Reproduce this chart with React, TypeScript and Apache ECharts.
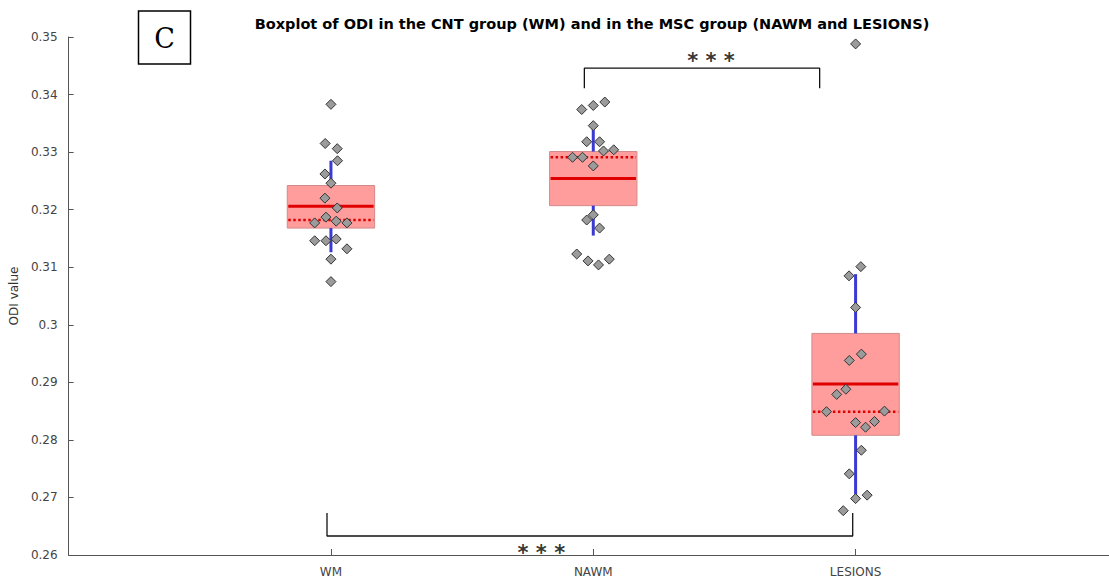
import React, { useEffect, useRef } from "react";
import * as echarts from "echarts";

const categories = ["WM", "NAWM", "LESIONS"];
const categoryPositions = [1, 2, 3];
const titleText = "Boxplot of ODI in the CNT group (WM) and in the MSC group (NAWM and LESIONS)";
const yTicks = { min: 0.26, max: 0.35, step: 0.01 };

// box statistics per category
const boxQ1 = [0.3168, 0.3207, 0.2808];
const boxQ3 = [0.3242, 0.3301, 0.2985];
const medians = [0.3206, 0.3254, 0.2897];
const means = [0.3182, 0.3291, 0.2849];
const whiskerLow = [0.3126, 0.3155, 0.2699];
const whiskerHigh = [0.3285, 0.3352, 0.3088];

// individual subjects: values and horizontal jitter (category units)
const wmValues = [0.3383, 0.3315, 0.3306, 0.3285, 0.3262, 0.3246, 0.322, 0.3203, 0.3187, 0.3177, 0.318, 0.3177, 0.3146, 0.3146, 0.3149, 0.3132, 0.3114, 0.3075];
const wmJitter = [0, -0.022, 0.024, 0.025, -0.023, 0, -0.023, 0.024, -0.019, -0.062, 0.02, 0.061, -0.062, -0.019, 0.02, 0.061, 0, 0];
const nawmValues = [0.3374, 0.3381, 0.3387, 0.3346, 0.3318, 0.3318, 0.3302, 0.3304, 0.3291, 0.3291, 0.3276, 0.3191, 0.3182, 0.3168, 0.3123, 0.3111, 0.3104, 0.3114];
const nawmJitter = [-0.044, 0, 0.044, 0, -0.025, 0.024, 0.039, 0.078, -0.079, -0.041, 0, 0, -0.025, 0.024, -0.063, -0.02, 0.02, 0.061];
const lesionValues = [0.3488, 0.3101, 0.3085, 0.303, 0.2938, 0.2949, 0.2879, 0.2888, 0.2849, 0.285, 0.283, 0.2822, 0.2832, 0.2782, 0.2741, 0.2698, 0.2704, 0.2677];
const lesionJitter = [0, 0.02, -0.025, 0, -0.024, 0.022, -0.072, -0.037, -0.111, 0.11, 0, 0.038, 0.072, 0.022, -0.024, 0, 0.044, -0.047];

// significance brackets
const bracketTop = [[1.966, 0.3411], [1.966, 0.3446], [2.863, 0.3446], [2.863, 0.3411]];
const bracketBottom = [[0.985, 0.2673], [0.985, 0.2633], [2.989, 0.2633], [2.989, 0.2673]];
const starMarks = [[2.449, 0.3458], [1.802, 0.2603]];
const starText = "* * *";

export default function App() {
  const ref = useRef<HTMLDivElement>(null);
  useEffect(() => {
    if (!ref.current) return;
    const chart = echarts.init(ref.current, null, { renderer: "svg" });
    const hw = 0.1665;
    const boxData = categories.map((_, i) => [categoryPositions[i], boxQ1[i], boxQ3[i], medians[i], means[i], whiskerLow[i], whiskerHigh[i]]);
    const groups = [
      [wmValues, wmJitter],
      [nawmValues, nawmJitter],
      [lesionValues, lesionJitter],
    ];
    const points: number[][] = [];
    groups.forEach(([vals, jit], gi) => {
      vals.forEach((v, k) => points.push([categoryPositions[gi] + jit[k], v]));
    });
    const option: any = {
      animation: false,
      backgroundColor: "#fff",
      grid: { left: 66, right: 0, top: 37, bottom: 24, containLabel: false },
      xAxis: {
        type: "value",
        min: 0,
        max: 3.966,
        interval: 1,
        axisLine: { lineStyle: { color: "#555", width: 1 } },
        axisTick: { inside: true, length: 6, lineStyle: { color: "#555" }, customValues: categoryPositions },
        splitLine: { show: false },
        axisLabel: {
          color: "#444",
          fontSize: 12,
          fontFamily: "DejaVu Sans",
          margin: 11,
          customValues: categoryPositions,
          formatter: (v: number) => {
            const r = Math.round(v);
            return Math.abs(v - r) < 1e-6 && r >= 1 && r <= 3 ? categories[r - 1] : "";
          },
        },
      },
      yAxis: {
        type: "value",
        min: yTicks.min,
        max: yTicks.max,
        interval: yTicks.step,
        name: "ODI value",
        nameLocation: "middle",
        nameRotate: 90,
        nameGap: 40,
        nameTextStyle: { color: "#333", fontSize: 12, fontFamily: "DejaVu Sans" },
        axisLine: { show: true, lineStyle: { color: "#555", width: 1 } },
        axisTick: { show: true, inside: true, length: 5, lineStyle: { color: "#555" } },
        splitLine: { show: false },
        axisLabel: {
          color: "#444",
          fontSize: 12,
          fontFamily: "DejaVu Sans",
          margin: 11,
          formatter: (v: number) => String(parseFloat(v.toFixed(2))),
        },
      },
      graphic: [
        {
          type: "text",
          x: 592,
          y: 24,
          style: {
            text: titleText,
            font: "bold 14.5px 'DejaVu Sans'",
            fill: "#000",
            textAlign: "center",
            textVerticalAlign: "middle",
          },
        },
        {
          type: "rect",
          shape: { x: 138.5, y: 11, width: 52, height: 53 },
          style: { fill: "#fff", stroke: "#000", lineWidth: 1.5 },
        },
        {
          type: "text",
          x: 164.5,
          y: 38,
          style: {
            text: "C",
            font: "27px 'DejaVu Serif'",
            fill: "#000",
            textAlign: "center",
            textVerticalAlign: "middle",
          },
        },
      ],
      series: [
        {
          type: "custom",
          data: boxData,
          z: 2,
          renderItem: (params: any, api: any) => {
            const x = api.value(0);
            const q1 = api.value(1), q3 = api.value(2), med = api.value(3), mn = api.value(4), wl = api.value(5), wh = api.value(6);
            const tl = api.coord([x - hw, q3]);
            const br = api.coord([x + hw, q1]);
            const c = api.coord([x, q3]);
            const cLow = api.coord([x, q1]);
            const top = api.coord([x, wh]);
            const bot = api.coord([x, wl]);
            const medL = api.coord([x - hw, med]);
            const medR = api.coord([x + hw, med]);
            const mnL = api.coord([x - hw, mn]);
            const mnR = api.coord([x + hw, mn]);
            return {
              type: "group",
              children: [
                {
                  type: "rect",
                  shape: { x: tl[0], y: tl[1], width: br[0] - tl[0], height: br[1] - tl[1] },
                  style: { fill: "#ff9d9d", stroke: "#d28a8a", lineWidth: 1 },
                },
                { type: "line", shape: { x1: c[0], y1: c[1], x2: top[0], y2: top[1] }, style: { stroke: "#3a3ad2", lineWidth: 3 } },
                { type: "line", shape: { x1: cLow[0], y1: cLow[1], x2: bot[0], y2: bot[1] }, style: { stroke: "#3a3ad2", lineWidth: 3 } },
                { type: "line", shape: { x1: medL[0] + 1, y1: medL[1], x2: medR[0] - 1, y2: medR[1] }, style: { stroke: "#e00000", lineWidth: 3 } },
                { type: "line", shape: { x1: mnL[0] + 1, y1: mnL[1], x2: mnR[0] - 1, y2: mnR[1] }, style: { stroke: "#e00000", lineWidth: 2.5, lineDash: [2.5, 2.5] } },
              ],
            };
          },
        },
        {
          type: "scatter",
          data: points,
          symbol: "diamond",
          symbolSize: [10, 10],
          z: 5,
          itemStyle: { color: "#9b9b9b", borderColor: "#333", borderWidth: 1, opacity: 1 },
        },
        {
          type: "line",
          data: bracketTop,
          symbol: "none",
          z: 4,
          lineStyle: { color: "#111", width: 1.3 },
        },
        {
          type: "line",
          data: bracketBottom,
          symbol: "none",
          z: 4,
          lineStyle: { color: "#111", width: 1.3 },
        },
        {
          type: "scatter",
          data: starMarks,
          symbolSize: 0,
          clip: false,
          z: 6,
          label: {
            show: true,
            position: "inside",
            formatter: starText,
            color: "#000",
            fontSize: 21,
            fontWeight: "bold",
            fontFamily: "DejaVu Sans",
          },
        },
      ],
    };
    chart.setOption(option);
    return () => chart.dispose();
  }, []);
  return (
    <div
      ref={ref}
      style={{ position: "fixed", left: 0, top: 0, width: 1109, height: 579, background: "#fff" }}
    />
  );
}
